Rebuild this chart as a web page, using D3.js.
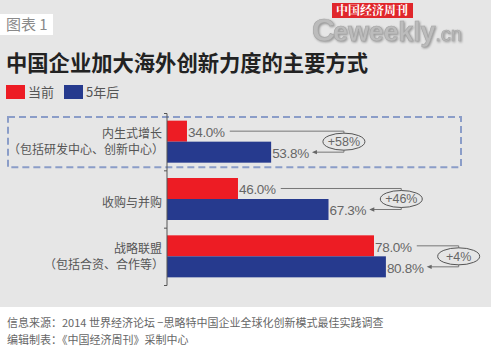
<!DOCTYPE html>
<html>
<head>
<meta charset="utf-8">
<script src="https://cdn.jsdelivr.net/npm/d3@7"></script>
<style>
  body { margin: 0; padding: 0; background: #fff; }
  svg { display: block; }
</style>
</head>
<body>
<div id="main"></div>
<script>
const categories = ['内生式增长', '收购与并购', '战略联盟'];
const subLabels = ['（包括研发中心、创新中心）', '', '（包括合资、合作等）'];
const seriesNames = ['当前', '5年后'];
const currentValues = [34.0, 46.0, 78.0];
const futureValues = [53.8, 67.3, 80.8];
const growthLabels = ['+58%', '+46%', '+4%'];

const WIDTH = 491, HEIGHT = 352;
const BG = '#e6e6e6';
const RED = '#ed1c24', BLUE = '#263a8e';
const CJK = '"Noto Sans CJK SC", "Noto Sans", sans-serif';
const NUM = '"Liberation Sans", Arial, sans-serif';

const svg = d3.select('#main').append('svg')
    .attr('width', WIDTH)
    .attr('height', HEIGHT);

// panel background
svg.append('rect').attr('x', 0).attr('y', 0).attr('width', WIDTH).attr('height', 307).attr('fill', BG);

// tag "图表 1"
svg.append('rect').attr('x', 0).attr('y', 14).attr('width', 53).attr('height', 21).attr('fill', '#fff');
svg.append('text').text('图表 1')
    .attr('x', 6).attr('y', 25).attr('dy', '0.35em')
    .attr('font-family', CJK).attr('font-size', 15).attr('fill', '#8a8a8a');

// logo
const logo = svg.append('g');
const logoText = logo.append('text')
    .attr('x', 312).attr('y', 41)
    .attr('font-family', NUM).attr('font-weight', 'bold')
    .attr('fill', '#bcbcbc').attr('stroke', '#a5a5a5').attr('stroke-width', 0.6)
    .attr('style', 'filter: drop-shadow(1px 1px 1px rgba(0,0,0,0.35))');
logoText.append('tspan').text('C').attr('font-size', 32);
logoText.append('tspan').text('eweekly').attr('font-size', 27).attr('dx', -2).attr('letter-spacing', -0.2);
logoText.append('tspan').text('.cn').attr('font-size', 20).attr('font-weight', 'normal');
logo.append('rect').attr('x', 332).attr('y', 3).attr('width', 81).attr('height', 15).attr('fill', '#e0262b');
logo.append('text').text('中国经济周刊')
    .attr('x', 372).attr('y', 10.5).attr('dy', '0.36em').attr('text-anchor', 'middle')
    .attr('font-family', '"Noto Serif CJK SC", "Noto Sans CJK SC", serif').attr('font-weight', 'bold')
    .attr('font-size', 12).attr('fill', '#fff');

// title
svg.append('text').text('中国企业加大海外创新力度的主要方式')
    .attr('x', 6).attr('y', 63).attr('dy', '0.36em')
    .attr('font-family', CJK).attr('font-weight', 'bold')
    .attr('font-size', 21.3).attr('fill', '#222');

// legend
const legendColors = [RED, BLUE];
const legendX = [6, 64];
seriesNames.forEach((name, i) => {
    svg.append('rect').attr('x', legendX[i]).attr('y', 85).attr('width', 19).attr('height', 14).attr('fill', legendColors[i]);
    svg.append('text').text(name)
        .attr('x', legendX[i] + 22).attr('y', 92).attr('dy', '0.36em')
        .attr('font-family', CJK).attr('font-size', 13).attr('fill', '#555');
});

// scales
const scaleX = d3.scaleLinear().domain([29.3, 100]).range([167, 467.5]);
const scaleY = d3.scaleBand().domain(categories).range([113, 285]).padding(0);
const scaleSeries = d3.scaleBand().domain(seriesNames).range([0, scaleY.bandwidth()]).paddingOuter(0.365).paddingInner(0);
const axisScale = d3.scaleLinear().domain([0, categories.length]).range([113, 285]);

// dashed highlight box around first category
svg.append('rect')
    .attr('x', 8).attr('y', scaleY(categories[0]) + 4)
    .attr('width', 453).attr('height', scaleY.bandwidth() - 7)
    .attr('fill', 'none').attr('stroke', '#8b9dc8').attr('stroke-width', 2)
    .attr('stroke-dasharray', '7,4');

const rows = categories.map((c, i) => ({
    cat: c, sub: subLabels[i], cur: currentValues[i], fut: futureValues[i], growth: growthLabels[i]
}));

// bars
const groups = svg.selectAll('g.row').data(rows).enter().append('g').attr('class', 'row')
    .attr('transform', d => `translate(0, ${scaleY(d.cat)})`);

groups.append('rect')
    .attr('x', scaleX(29.3))
    .attr('y', scaleSeries(seriesNames[0]))
    .attr('width', d => scaleX(d.cur) - scaleX(29.3))
    .attr('height', scaleSeries.bandwidth())
    .attr('fill', RED);
groups.append('rect')
    .attr('x', scaleX(29.3))
    .attr('y', scaleSeries(seriesNames[1]))
    .attr('width', d => scaleX(d.fut) - scaleX(29.3))
    .attr('height', scaleSeries.bandwidth())
    .attr('fill', BLUE);

// axis
const axis = d3.axisLeft(axisScale).tickValues(d3.range(categories.length + 1)).tickSize(3).tickFormat('');
const axisG = svg.append('g').attr('transform', `translate(${scaleX(29.3)}, 0)`).call(axis);
axisG.select('.domain').attr('stroke', '#555').attr('d', `M-3,113.5H0V285.5H-3`);
axisG.selectAll('.tick line').attr('stroke', '#555');

// category labels
groups.each(function(d) {
    const g = d3.select(this);
    const mid = scaleY.bandwidth() / 2;
    if (d.sub) {
        g.append('text').text(d.cat).attr('x', 162).attr('y', mid - 7.5).attr('dy', '0.36em');
        g.append('text').text(d.sub).attr('x', 164).attr('y', mid + 8).attr('dy', '0.36em');
    } else {
        g.append('text').text(d.cat).attr('x', 162).attr('y', mid + 4).attr('dy', '0.36em');
    }
    g.selectAll('text').attr('text-anchor', 'end').attr('font-family', CJK)
        .attr('font-size', 12).attr('fill', '#555');
});

// value labels + connectors
const fmt = d3.format('.1f');
groups.each(function(d) {
    const g = d3.select(this);
    const yCur = scaleSeries(seriesNames[0]) + scaleSeries.bandwidth() / 2;
    const yFut = scaleSeries(seriesNames[1]) + scaleSeries.bandwidth() / 2;
    const tCur = g.append('text').text(fmt(d.cur) + '%')
        .attr('x', scaleX(d.cur) + 1).attr('y', yCur + 1).attr('dy', '0.36em');
    const tFut = g.append('text').text(fmt(d.fut) + '%')
        .attr('x', scaleX(d.fut) + 1).attr('y', yFut + 1).attr('dy', '0.36em');
    [tCur, tFut].forEach(t => t.attr('font-family', NUM).attr('font-size', 13.5)
        .attr('fill', '#666').attr('letter-spacing', -0.3));
    const curEnd = scaleX(d.cur) + 1 + tCur.node().getComputedTextLength();
    const futEnd = scaleX(d.fut) + 1 + tFut.node().getComputedTextLength();
    const vx = futEnd + 35;
    g.append('path')
        .attr('d', `M${curEnd + 5},${yCur}H${vx}V${yFut}H${futEnd + 6}`)
        .attr('fill', 'none').attr('stroke', '#777').attr('stroke-width', 1);
    g.append('path')
        .attr('d', `M${futEnd + 3},${yFut}l5,-2.2v4.4z`)
        .attr('fill', '#666');
    const cy = (yCur + yFut) / 2;
    g.append('ellipse').attr('cx', vx).attr('cy', cy).attr('rx', 21).attr('ry', 8.5)
        .attr('fill', BG).attr('stroke', '#555').attr('stroke-width', 1);
    g.append('text').text(d.growth)
        .attr('x', vx).attr('y', cy).attr('dy', '0.36em').attr('text-anchor', 'middle')
        .attr('font-family', NUM).attr('font-size', 12.5).attr('fill', '#666');
});

// footer
svg.append('text').text('信息来源：2014 世界经济论坛 −思略特中国企业全球化创新模式最佳实践调查')
    .attr('x', 7).attr('y', 323).attr('dy', '0.36em')
    .attr('font-family', CJK).attr('font-size', 11).attr('fill', '#666');
svg.append('text').text('编辑制表：《中国经济周刊》采制中心')
    .attr('x', 7).attr('y', 340).attr('dy', '0.36em')
    .attr('font-family', CJK).attr('font-size', 11).attr('fill', '#666');
</script>
</body>
</html>
